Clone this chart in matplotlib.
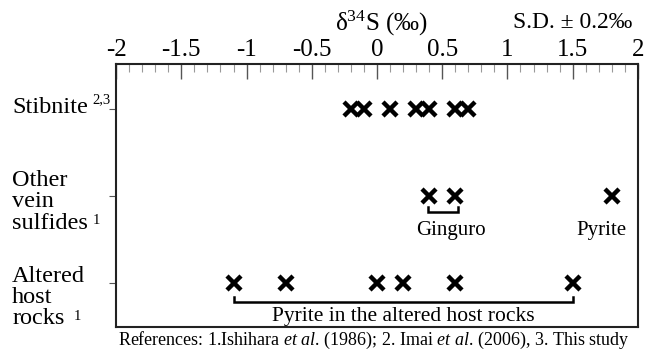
import numpy as np
import matplotlib
matplotlib.use("Agg")
import matplotlib.pyplot as plt
from matplotlib.ticker import MultipleLocator

plt.rcParams['font.family'] = ['Liberation Serif', 'DejaVu Serif']
plt.rcParams['mathtext.fontset'] = 'custom'
plt.rcParams['mathtext.rm'] = 'Liberation Serif'
plt.rcParams['mathtext.it'] = 'Liberation Serif:italic'

# data (delta34S, permil)
stibnite = [-0.2, -0.1, 0.1, 0.3, 0.4, 0.6, 0.7]
ginguro = [0.4, 0.6]
vein_pyrite = [1.8]
altered = [-1.1, -0.7, 0.0, 0.2, 0.6, 1.5]

groups = [["Stibnite"], ["Other", "vein", "sulfides"], ["Altered", "host", "rocks"]]
refs = ["2,3", "1", "1"]
ypos = [3, 2, 1]

fig = plt.figure(figsize=(6.45, 3.53), dpi=100)
ax = fig.add_axes([0.180, 0.074, 0.809, 0.745])

mk = dict(marker='x', ms=10, mew=3.2, color='black', ls='none')
ax.plot(stibnite, [3] * len(stibnite), **mk)
ax.plot(ginguro + vein_pyrite, [2] * 3, **mk)
ax.plot(altered, [1] * len(altered), **mk)

# brackets
def bracket(x0, x1, y, h):
    ax.plot([x0, x0, x1, x1], [y + h, y, y, y + h], color='black', lw=1.8,
            solid_joinstyle='miter')

bracket(min(ginguro) - 0.01, max(ginguro) + 0.02, 1.813, 0.058)
bracket(min(altered), max(altered), 0.778, 0.058)

ax.text(0.57, 1.6, "Ginguro", ha='center', va='center', fontsize=15)
ax.text(1.72, 1.6, "Pyrite", ha='center', va='center', fontsize=15)
ax.text(0.2, 0.61, "Pyrite in the altered host rocks", ha='center', va='center', fontsize=15.5)

ax.set_xlim(-2, 2)
ax.set_ylim(0.49, 3.52)
ax.xaxis.tick_top()
ax.xaxis.set_minor_locator(MultipleLocator(0.1))
ax.tick_params(axis='x', which='major', direction='in', length=11, width=1.0,
               color='#555555', top=True, bottom=False, pad=2)
ax.tick_params(axis='x', which='minor', direction='in', length=6, width=0.8,
               color='#999999', top=True, bottom=False)
ticks = np.arange(-2, 2.01, 0.5)
ax.set_xticks(ticks)
ax.set_xticklabels(["%g" % t for t in ticks], fontsize=18)

ax.set_yticks(ypos)
ax.set_yticklabels([])
ax.tick_params(axis='y', direction='out', length=5, width=0.8, color='#555555')

# category labels, one text per line
yt = ax.get_yaxis_transform()
centers = [3.02, 1.93, 0.83]
pitch = 0.245
for lines, yc in zip(groups, centers):
    n = len(lines)
    for i, s in enumerate(lines):
        ax.text(-0.199, yc + (n - 1) / 2 * pitch - i * pitch, s, transform=yt,
                ha='left', va='center', fontsize=17.5)
# reference superscripts
ax.text(-0.045, 3.07, refs[0], transform=yt, ha='left', va='baseline', fontsize=10.5)
ax.text(-0.045, 1.68, refs[1], transform=yt, ha='left', va='baseline', fontsize=10.5)
ax.text(-0.082, 0.565, refs[2], transform=yt, ha='left', va='baseline', fontsize=10.5)

for s in ax.spines.values():
    s.set_linewidth(1.5)
    s.set_color('#222222')

fig.text(0.591, 0.935, "δ$^{34}$S (‰)", ha='center', va='center', fontsize=18)
fig.text(0.888, 0.935, "S.D. ± 0.2‰", ha='center', va='center', fontsize=17)
fig.text(0.58, 0.035, "References: 1.Ishihara $\\it{et\\ al}$. (1986); 2. Imai $\\it{et\\ al}$. (2006), 3. This study",
         ha='center', va='center', fontsize=13)

fig.savefig("out.png", dpi=100)
